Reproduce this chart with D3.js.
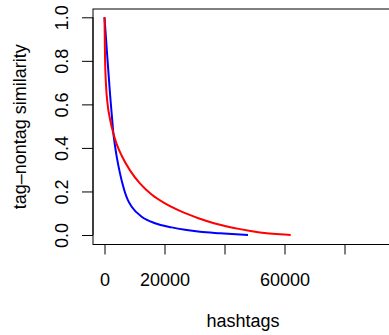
<!doctype html>
<html>
<head>
<meta charset="utf-8">
<title>tag-nontag similarity</title>
<style>
  body { margin: 0; background: #fff; }
  svg text { font-family: "Liberation Sans", Arial, sans-serif; fill: #000; }
</style>
</head>
<body>
<svg id="chart"></svg>
<script src="https://cdn.jsdelivr.net/npm/d3@7"></script>
<script>
// values
const redX  = [0, 170, 500, 1000, 1800, 2900, 4000, 5700, 8500, 11800, 15700, 20200, 25700, 31300, 36800, 45200, 51800, 58500, 62070];
const redY  = [1.0, 0.82, 0.69, 0.605, 0.535, 0.47, 0.42, 0.365, 0.297, 0.237, 0.186, 0.145, 0.107, 0.077, 0.053, 0.027, 0.012, 0.003, 0.0];
const blueX = [0, 930, 1830, 2500, 2900, 3500, 4070, 5170, 6000, 6830, 7800, 9070, 12400, 16830, 22400, 26830, 31830, 38500, 45170, 47830];
const blueY = [1.0, 0.82, 0.65, 0.54, 0.475, 0.41, 0.36, 0.283, 0.235, 0.195, 0.16, 0.13, 0.084, 0.054, 0.035, 0.024, 0.015, 0.008, 0.002, 0.0];
const xTicks = [0, 20000, 40000, 60000, 80000];
const xTickLabels = ["0", "20000", "", "60000", ""];  // R drops the overlapping ones
const yTicks = [0, 0.2, 0.4, 0.6, 0.8, 1.0];
const xTitle = "hashtags";
const yTitle = "tag\u2013nontag similarity";

const width = 389, height = 335;
const svg = d3.select("#chart").attr("width", width).attr("height", height);

// plot region (R style: 4% padding around the data range)
const x = d3.scaleLinear().domain([0, 80000]).range([104.5, 344.5]);
const y = d3.scaleLinear().domain([0, 1]).range([235, 17.3]);
const box = { left: 93, top: 9, right: 415, bottom: 244.5 };

svg.append("rect")
    .attr("x", box.left).attr("y", box.top)
    .attr("width", box.right - box.left).attr("height", box.bottom - box.top)
    .attr("fill", "none").attr("stroke", "#000").attr("stroke-width", 1);

// axes
const xAxis = d3.axisBottom(x).tickValues(xTicks)
    .tickFormat((d, i) => xTickLabels[i]).tickSize(10).tickPadding(19);
svg.append("g").attr("transform", `translate(0,${box.bottom})`).call(xAxis)
    .call(g => g.select(".domain").attr("d", `M${x(0)},0H${x(80000)}`))
    .call(g => g.selectAll("text").attr("font-size", 18).attr("font-family", null));

const yAxis = d3.axisLeft(y).tickValues(yTicks)
    .tickFormat(d3.format(".1f")).tickSize(11);
const gy = svg.append("g").attr("transform", `translate(${box.left},0)`).call(yAxis);
gy.select(".domain").attr("d", `M0,${y(0)}V${y(1)}`);
gy.selectAll(".tick text")
    .attr("font-size", 18).attr("font-family", null)
    .attr("x", null).attr("dy", null)
    .attr("text-anchor", "middle")
    .attr("transform", "translate(-25,0) rotate(-90)");

// titles
svg.append("text").attr("x", 243).attr("y", 327)
    .attr("text-anchor", "middle").attr("font-size", 18).text(xTitle);
svg.append("text")
    .attr("transform", `translate(26,${(box.top + box.bottom) / 2}) rotate(-90)`)
    .attr("text-anchor", "middle").attr("font-size", 18).text(yTitle);

// curves
const line = d3.line().x(d => x(d[0])).y(d => y(d[1])).curve(d3.curveMonotoneX);
svg.append("path").datum(blueX.map((v, i) => [v, blueY[i]]))
    .attr("d", line).attr("fill", "none").attr("stroke", "#0000ff").attr("stroke-width", 2);
svg.append("path").datum(redX.map((v, i) => [v, redY[i]]))
    .attr("d", line).attr("fill", "none").attr("stroke", "#ff0000").attr("stroke-width", 2);
</script>
</body>
</html>
